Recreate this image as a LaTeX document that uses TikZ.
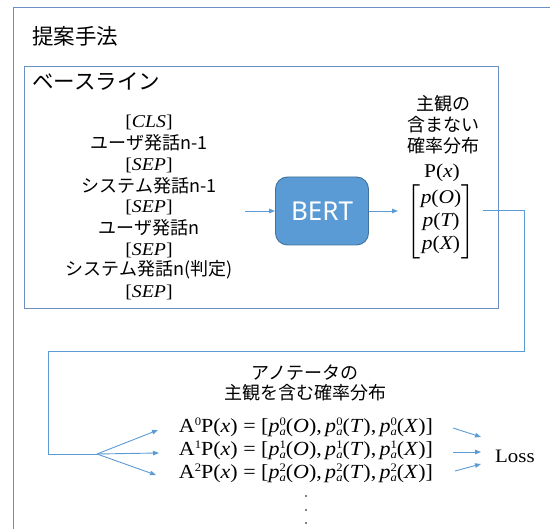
\documentclass[tikz,border=0pt]{standalone}
\usepackage{amsmath}
\usepackage{fontspec}
\setmainfont{Liberation Serif}
\newfontfamily\mfont[FakeStretch=1.1]{Liberation Serif}
\newfontfamily\jp{Noto Sans CJK JP}
\newfontfamily\sans{Noto Sans}
\usetikzlibrary{arrows.meta}
\definecolor{frame}{HTML}{6B8FC4}
\definecolor{conn}{HTML}{5B9BD5}
\definecolor{bertfill}{HTML}{5B9BD5}
\definecolor{bertdraw}{HTML}{41719C}
\newcommand\mi[1]{\text{\mfont\itshape #1}}
\newcommand\mr[1]{\text{\mfont\upshape #1}}
\newcommand\scr{\fontsize{11.5}{11.5}\selectfont}
\newcommand\supsub[2]{{\scr\makebox[0pt][l]{\raisebox{6.5pt}{#1}}\raisebox{-3pt}{\itshape #2}}}
\newcommand\pa[2]{\textit{p}\supsub{#1}{a}(\textit{#2})}
\newcommand\eqline[1]{A\raisebox{7pt}{\scr #1}P(\textit{x}) = [\pa{#1}{O},\,\pa{#1}{T},\,\pa{#1}{X}]}
\tikzset{
  frameline/.style={draw=frame, line width=0.9pt},
  connline/.style={draw=conn, line width=0.9pt},
  arr/.style={connline, -{Triangle[length=6pt,width=4.5pt]}},
  jtext/.style={font=\jp\fontsize{18}{21}\selectfont, inner sep=0pt, anchor=center},
  mtext/.style={font=\mfont\fontsize{18}{21}\selectfont, inner sep=0pt, anchor=center},
  eqtext/.style={font=\mfont\fontsize{20}{22}\selectfont, inner sep=0pt, anchor=center, text height=14pt, text depth=5pt},
  title/.style={font=\jp\fontsize{21.5}{24}\selectfont, inner sep=0pt, anchor=west},
}
\begin{document}
\begin{tikzpicture}[x=1pt,y=-1pt]
\useasboundingbox (0,0) rectangle (550,529);
% outer frame
\draw[frameline] (13,7) -- (551,7);
\draw[frameline] (13,7) -- (13,530);
\node[title] (t1) at (32,36) {提案手法};
% inner frame
\draw[frameline] (24,66) rectangle (498,308);
\node[title] (t2) at (32,82) {ベースライン};
% inputs
\node[mtext] (i1) at (149,122) {[\textit{CLS}]};
\node[jtext] (i2) at (149,143) {ユーザ発話n-1};
\node[mtext] (i3) at (149,165) {[\textit{SEP}]};
\node[jtext] (i4) at (149,186) {システム発話n-1};
\node[mtext] (i5) at (149,207) {[\textit{SEP}]};
\node[jtext] (i6) at (149,228) {ユーザ発話n};
\node[mtext] (i7) at (149,250) {[\textit{SEP}]};
\node[jtext] (i8) at (149,270) {システム発話n(判定)};
\node[mtext] (i9) at (149,292) {[\textit{SEP}]};
\coordinate (inR) at (245,211);
% BERT
\node[draw=bertdraw, fill=bertfill, line width=0.9pt, rounded corners=12pt,
  minimum width=93pt, minimum height=68pt, inner sep=0pt,
  text=white, font=\sans\fontsize{26}{28}\selectfont] (bert) at (322,211) {BERT};
\draw[arr] (inR) -- (bert.west);
% output
\node[jtext] (o1) at (443,104) {主観の};
\node[jtext] (o2) at (443,125) {含まない};
\node[jtext] (o3) at (443,146) {確率分布};
\node[mtext, font=\mfont\fontsize{19.5}{21}\selectfont] (o4) at (442,173) {P(\textit{x})};
\node[mtext, font=\mfont\fontsize{19.5}{21}\selectfont] (mat) at (441,222) {$\left[\renewcommand{\arraystretch}{1.1}\begin{array}{@{}c@{}}\mi{p}\mr{(}\mi{O}\mr{)}\\ \mi{p}\mr{(}\mi{T}\mr{)}\\ \mi{p}\mr{(}\mi{X}\mr{)}\end{array}\right]$};
\coordinate (bertOut) at (398,211);
\draw[arr] (bert.east) -- (bertOut);
% long connector
\coordinate (c0) at (483,210);
\coordinate (c1) at (524,210);
\coordinate (c2) at (524,351);
\coordinate (c3) at (48,351);
\coordinate (c4) at (48,454);
\coordinate (fan) at (97,454);
\draw[connline] (c0) -- (c1) -- (c2) -- (c3) -- (c4) -- (fan);
% annotator distributions
\node[jtext] (a1) at (305,373) {アノテータの};
\node[jtext] (a2) at (305,393) {主観を含む確率分布};
\node[eqtext] (e0) at (306,428) {\eqline{0}};
\node[eqtext] (e1) at (306,451) {\eqline{1}};
\node[eqtext] (e2) at (306,474) {\eqline{2}};
\coordinate (f0) at (158,430);
\coordinate (f1) at (159,453);
\coordinate (f2) at (156,475);
\draw[arr] (fan) -- (f0);
\draw[arr] (fan) -- (f1);
\draw[arr] (fan) -- (f2);
\fill (306,496) circle (0.8pt);
\fill (306,510) circle (0.8pt);
\fill (306,523) circle (0.8pt);
% loss
\node[mtext, anchor=west, font=\mfont\fontsize{19}{21}\selectfont] (loss) at (495,456) {Loss};
\coordinate (l0s) at (453,428);
\coordinate (l1s) at (453,452);
\coordinate (l2s) at (455,471);
\coordinate (l0e) at (481,437);
\coordinate (l1e) at (481,452);
\coordinate (l2e) at (481,464);
\draw[arr] (l0s) -- (l0e);
\draw[arr] (l1s) -- (l1e);
\draw[arr] (l2s) -- (l2e);
\end{tikzpicture}
\end{document}
